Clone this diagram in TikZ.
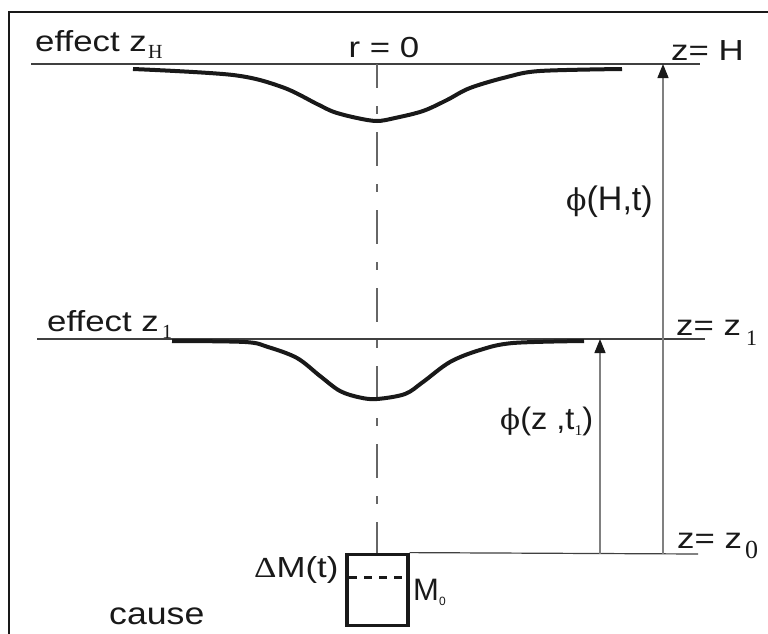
\documentclass[tikz,border=0pt]{standalone}
\usepackage{fontspec}
\setmainfont{Liberation Sans}
\newfontfamily\tnr{Liberation Serif}
\newfontfamily\dvs{DejaVu Serif}
\usetikzlibrary{arrows.meta}
\begin{document}
\begin{tikzpicture}[x=1pt,y=-1pt,
  lbl/.style={inner sep=0pt,anchor=base west,text=black!90,font=\fontsize{29}{29}\selectfont},
  sublbl/.style={inner sep=0pt,anchor=base west,text=black!90,font=\tnr\fontsize{20}{20}\selectfont},
  hline/.style={line width=1.2pt,draw=black!75},
  axisline/.style={line width=1.2pt,draw=black!60,dash pattern=on 34pt off 18pt on 8pt off 18pt,dash phase=10pt},
  curveline/.style={line width=4pt,draw=black!90,line cap=butt},
  arrline/.style={line width=1.3pt,draw=black!50,-{Triangle[length=14pt,width=11pt,color=black!90]}},
  ]
\useasboundingbox (0,0) rectangle (768,634);
\begin{scope}
\clip (0,0) rectangle (768,634);
\fill[white] (0,0) rectangle (768,634);
\draw[line width=2pt,draw=black!90] (9,12) rectangle (800,700);
\end{scope}

% level lines
\coordinate (hL) at (31,64);  \coordinate (hR) at (700,64);
\coordinate (oL) at (37,339); \coordinate (oR) at (705,339);
\coordinate (zR) at (698,554);
\draw[hline] (hL) -- (hR);
\draw[hline] (oL) -- (oR);

% axis
\coordinate (axT) at (377,64); \coordinate (axB) at (377,554);
\draw[axisline] (axT) -- (axB);

% curves
\draw[curveline] plot[smooth,tension=0.55] coordinates {(133,69) (233,75) (282,87) (317,104) (334,112) (357,118) (377,121) (395,118) (423,111) (447,100) (470,88) (507,77) (540,71) (622,69)};
\draw[curveline] plot[smooth,tension=0.55] coordinates {(172,341) (245,342) (268,347) (297,358) (320,376) (340,391) (360,397.5) (377,399) (405,394) (423,382) (450,362) (480,350) (513,343) (584,341)};

% box
\node[draw=black!90,line width=3.3pt,minimum width=61pt,minimum height=71.5pt,inner sep=0pt] (box) at (377.5,590) {};
\coordinate (dL) at (349,577); \coordinate (dR) at (406,577);
\draw[line width=3pt,draw=black!90,dash pattern=on 8pt off 7pt] (dL) -- (dR);
\draw[hline] (box.north east) -- (zR);

% arrows
\coordinate (a1b) at (663,554); \coordinate (a1t) at (663,64);
\coordinate (a2b) at (600,554); \coordinate (a2t) at (600,339);
\draw[arrline] (a1b) -- (a1t);
\draw[arrline] (a2b) -- (a2t);

% labels
\node[lbl,xscale=1.2] (effH) at (35,52) {effect z};
\node[sublbl] (effHs) at (148,59) {H};
\node[lbl,anchor=base,xscale=1.2] (r0) at (384,58) {r = 0};
\node[lbl,xscale=1.2] (zH) at (671,60) {z= H};
\node[lbl,xscale=1.2] (eff1) at (47,331) {effect z};
\node[sublbl] (eff1s) at (162,338) {1};
\node[lbl,xscale=1.2] (z1) at (676,335) {z= z};
\node[sublbl,font=\tnr\fontsize{22}{22}\selectfont] (z1s) at (746,345) {1};
\node[lbl,xscale=1.2] (z0) at (677,548) {z= z};
\node[sublbl,font=\tnr\fontsize{26}{26}\selectfont] (z0s) at (745,558) {0};
\node[lbl,font=\fontsize{34}{34}\selectfont] (phiH) at (566,210) {{\dvs\fontsize{30}{30}\selectfont ϕ}(H,t)};
\node[lbl,font=\fontsize{31}{31}\selectfont,xscale=1.05] (phiz) at (500,429) {{\dvs\fontsize{28}{28}\selectfont ϕ}(z ,t{\tnr\fontsize{15}{15}\selectfont\raisebox{-6pt}{1}})};
\node[lbl,xscale=1.2] (dM) at (254,577) {{\tnr Δ}M(t)};
\node[lbl,font=\fontsize{31}{31}\selectfont] (M0) at (413,600) {M{\fontsize{12}{12}\selectfont\raisebox{-5pt}{0}}};
\node[lbl,font=\fontsize{31}{31}\selectfont,xscale=1.15] (cause) at (109,624) {cause};
\end{tikzpicture}
\end{document}
